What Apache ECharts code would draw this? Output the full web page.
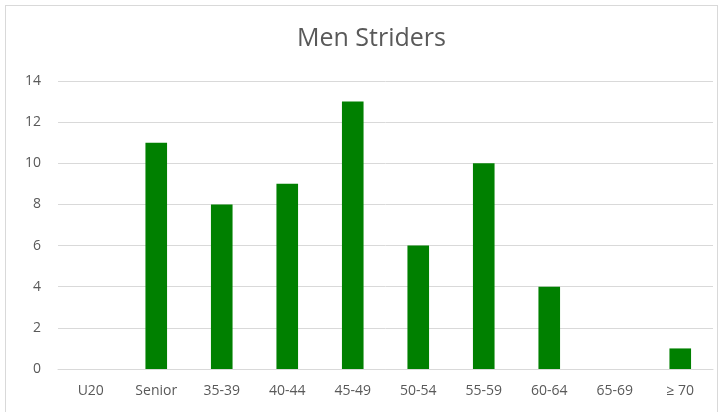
<!DOCTYPE html>
<html>
<head>
<meta charset="utf-8">
<style>
  html, body { margin: 0; padding: 0; background: #fff; }
  #chart { width: 724px; height: 412px; }
  .frame { position: absolute; left: 5px; top: 5px; width: 713px; height: 420px; border: 1px solid #d9d9d9; box-sizing: border-box; pointer-events: none; }
</style>
<script src="https://cdn.jsdelivr.net/npm/echarts@6/dist/echarts.min.js"></script>
</head>
<body>
<div id="chart"></div>
<div class="frame"></div>
<script>
  const categories = ["U20", "Senior", "35-39", "40-44", "45-49", "50-54", "55-59", "60-64", "65-69", "\u2265 70"];
  const counts = [0, 11, 8, 9, 13, 6, 10, 4, 0, 1];
  const yTicks = { min: 0, max: 14, step: 2 };

  const chart = echarts.init(document.getElementById("chart"), null, { renderer: "canvas" });
  const font = "'Open Sans', 'Noto Sans', sans-serif";

  chart.setOption({
    animation: false,
    title: {
      text: "Men Striders",
      left: 292,
      top: 21,
      textStyle: { fontFamily: font, fontSize: 25, fontWeight: "normal", color: "#595959" }
    },
    grid: { left: 58, right: 11, top: 81, bottom: 43 },
    xAxis: {
      type: "category",
      data: categories,
      axisLine: { lineStyle: { color: "#d9d9d9", width: 1 } },
      axisTick: { show: false },
      axisLabel: { fontFamily: font, fontSize: 14, color: "#595959", margin: 15 }
    },
    yAxis: {
      type: "value",
      min: yTicks.min,
      max: yTicks.max,
      interval: yTicks.step,
      axisLine: { show: false },
      axisTick: { show: false },
      axisLabel: { fontFamily: font, fontSize: 14, color: "#595959", margin: 17 },
      splitLine: { lineStyle: { color: "#d9d9d9", width: 1 } }
    },
    series: [{
      type: "bar",
      data: counts,
      barWidth: "33%",
      itemStyle: { color: "#008000" }
    }]
  });
</script>
</body>
</html>
